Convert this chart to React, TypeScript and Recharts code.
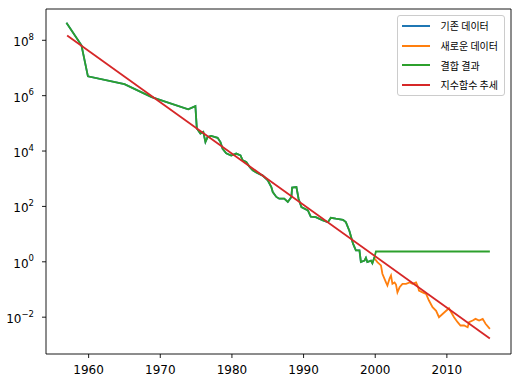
import {
  LineChart,
  Line,
  XAxis,
  YAxis,
  Legend,
  ReferenceArea,
} from "recharts";

// axis limits (matplotlib-style 5% margins)
const X_MIN = 1954.05;
const X_MAX = 2018.95;
const Y_MIN = Math.pow(10, -3.33);
const Y_MAX = Math.pow(10, 9.13);

const xTicks = [1960, 1970, 1980, 1990, 2000, 2010];
const yTicks = [1e-2, 1, 1e2, 1e4, 1e6, 1e8];

// series names, in legend order
const OLD_NAME = "기존 데이터";
const NEW_NAME = "새로운 데이터";
const MERGED_NAME = "결합 결과";
const FIT_NAME = "지수함수 추세";
const legendOrder = [OLD_NAME, NEW_NAME, MERGED_NAME, FIT_NAME];

// older data, up to 2000
const oldYears = [
  1956.9, 1959.0, 1959.9, 1965.0, 1968.8, 1973.9, 1974.9, 1975.1, 1975.6, 1976.0,
  1976.3, 1976.6, 1977.1, 1978.0, 1978.4, 1978.7, 1979.2, 1979.9, 1980.6, 1981.2,
  1981.5, 1982.0, 1982.5, 1982.9, 1983.4, 1984.3, 1985.0, 1985.5, 1985.7, 1986.2,
  1986.6, 1987.3, 1987.8, 1988.3, 1988.4, 1989.0, 1989.3, 1989.7, 1990.6, 1991.0,
  1991.7, 1992.7, 1993.4, 1993.8, 1994.5, 1995.5, 1995.9, 1996.4, 1996.9, 1997.3,
  1997.8, 1998.0, 1998.5, 1998.7, 1998.9, 1999.4, 1999.6, 1999.9,
];
const oldValues = [
  4.3e8, 6.6e7, 5.0e6, 2.6e6, 8.9e5, 3.2e5, 4.2e5, 6.5e4, 4.3e4, 4.9e4,
  2.1e4, 3.2e4, 3.5e4, 3.0e4, 2.1e4, 1.2e4, 8.3e3, 6.9e3, 8.1e3, 6.9e3,
  4.6e3, 4.0e3, 2.6e3, 2.0e3, 1.7e3, 1.3e3, 870, 500, 330, 220,
  190, 190, 145, 220, 480, 500, 190, 94, 72, 43,
  41, 31, 27, 39, 36, 33, 27, 13, 4.5, 2.6,
  2.6, 0.98, 1.1, 1.4, 0.98, 1.1, 0.89, 1.5,
];

// newer data, 2000 onwards
const newYears = [
  1999.9, 2000.3, 2000.8, 2001.0, 2001.5, 2001.7, 2002.0, 2002.2, 2002.4, 2002.7,
  2002.9, 2003.1, 2003.4, 2003.8, 2004.3, 2004.8, 2005.2, 2005.7, 2006.0, 2006.1,
  2006.6, 2007.1, 2007.5, 2008.0, 2008.5, 2008.9, 2009.4, 2009.9, 2010.3, 2010.6,
  2011.0, 2011.5, 2011.9, 2012.4, 2012.9, 2013.1, 2013.6, 2014.0, 2014.5, 2015.0,
  2015.4, 2016.0,
];
const newValues = [
  1.32, 0.98, 0.74, 0.37, 0.18, 0.14, 0.25, 0.32, 0.16, 0.18,
  0.15, 0.079, 0.12, 0.16, 0.16, 0.18, 0.16, 0.18, 0.12, 0.091,
  0.079, 0.069, 0.04, 0.023, 0.017, 0.01, 0.013, 0.017, 0.021, 0.015,
  0.01, 0.0066, 0.005, 0.005, 0.0043, 0.0066, 0.0076, 0.0087, 0.0076, 0.0087,
  0.0058, 0.0038,
];

// merged series keeps the last old value flat after 2000
const mergedTailYears = [2000.1, 2016.0];
const mergedTailValues = [2.35, 2.35];

// exponential trend end points
const fitYears = [1957, 2016];
const fitValues = [1.5e8, 1.7e-3];

const toPoints = (xs: number[], ys: number[]) => xs.map((x, i) => ({ x, y: ys[i] }));

const oldData = toPoints(oldYears, oldValues);
const newData = toPoints(newYears, newValues);
const mergedData = [...oldData, ...toPoints(mergedTailYears, mergedTailValues)];
const fitData = toPoints(fitYears, fitValues);

const TICK_FONT = "'DejaVu Sans', sans-serif";

function PowerTick(props: any) {
  const { x, y, payload } = props;
  const exp = Math.round(Math.log10(payload.value));
  const label = exp < 0 ? `\u2212${-exp}` : `${exp}`;
  return (
    <text x={x} y={y + 6} textAnchor="end" fontSize={12} fontFamily={TICK_FONT} fill="#000">
      10
      <tspan dy={-6.5} fontSize={8.5}>
        {label}
      </tspan>
    </text>
  );
}

function LegendBox(props: any) {
  const items = [...(props.payload || [])].sort(
    (a: any, b: any) => legendOrder.indexOf(a.value) - legendOrder.indexOf(b.value)
  );
  return (
    <div
      style={{
        background: "rgba(255,255,255,0.8)",
        border: "1px solid #cccccc",
        borderRadius: 3,
        padding: "0px 6px 0px 4px",
        fontFamily: "'Noto Sans CJK KR', sans-serif",
        fontSize: 10,
        color: "#000",
      }}
    >
      {items.map((item: any) => (
        <div key={item.value} style={{ display: "flex", alignItems: "center", height: 19.7 }}>
          <span
            style={{
              display: "inline-block",
              width: 28,
              height: 0,
              borderTop: `2px solid ${item.color}`,
              marginRight: 11,
            }}
          />
          <span>{item.value}</span>
        </div>
      ))}
    </div>
  );
}

export default function App() {
  return (
    <div style={{ position: "absolute", left: 0, top: 0, width: 527, height: 388, background: "#fff" }}>
      <LineChart width={527} height={388} margin={{ top: 9, right: 16, bottom: 0, left: 0 }}>
        <XAxis
          type="number"
          dataKey="x"
          domain={[X_MIN, X_MAX]}
          ticks={xTicks}
          interval={0}
          allowDataOverflow
          height={34}
          axisLine={false}
          tickSize={4}
          tickMargin={7.5}
          tickLine={{ stroke: "#000", strokeWidth: 0.9 }}
          tick={{ fill: "#000", fontSize: 12, fontFamily: TICK_FONT }}
        />
        <YAxis
          type="number"
          scale="log"
          domain={[Y_MIN, Y_MAX]}
          ticks={yTicks}
          interval={0}
          allowDataOverflow
          width={46}
          axisLine={false}
          tickSize={4}
          tickMargin={8}
          tickLine={{ stroke: "#000", strokeWidth: 0.9 }}
          tick={<PowerTick />}
        />
        <Legend
          layout="horizontal"
          verticalAlign="middle"
          align="center"
          wrapperStyle={{ top: 15, right: 22, left: "auto", width: "auto", height: "auto" }}
          content={<LegendBox />}
        />
        <Line
          data={oldData}
          dataKey="y"
          name={OLD_NAME}
          type="linear"
          stroke="#1f77b4"
          strokeWidth={1.8}
          dot={false}
          isAnimationActive={false}
        />
        <Line
          data={newData}
          dataKey="y"
          name={NEW_NAME}
          type="linear"
          stroke="#ff7f0e"
          strokeWidth={1.8}
          dot={false}
          isAnimationActive={false}
        />
        <Line
          data={mergedData}
          dataKey="y"
          name={MERGED_NAME}
          type="linear"
          stroke="#2ca02c"
          strokeWidth={1.8}
          dot={false}
          isAnimationActive={false}
        />
        <Line
          data={fitData}
          dataKey="y"
          name={FIT_NAME}
          type="linear"
          stroke="#d62728"
          strokeWidth={1.8}
          dot={false}
          isAnimationActive={false}
        />
        <ReferenceArea
          x1={X_MIN}
          x2={X_MAX}
          y1={Y_MIN}
          y2={Y_MAX}
          fill="none"
          stroke="#000"
          strokeWidth={0.9}
          ifOverflow="visible"
        />
      </LineChart>
    </div>
  );
}
